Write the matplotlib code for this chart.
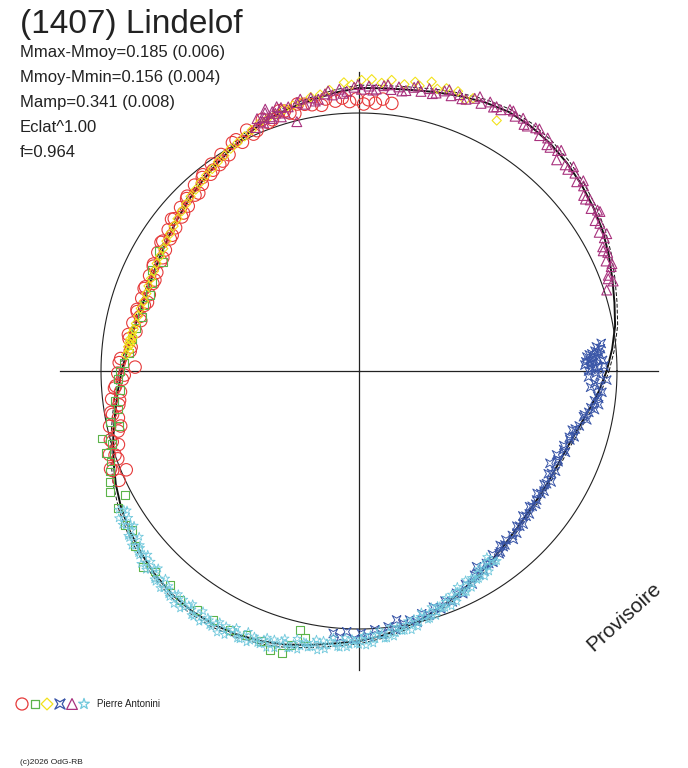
import numpy as np
import matplotlib
matplotlib.use("Agg")
import matplotlib.pyplot as plt

plt.rcParams['font.family'] = ['Liberation Sans', 'DejaVu Sans']

# courbe ajustée (angle en degrés, rayon relatif)
fit_deg = [0, 5, 10, 15, 20, 25, 30, 35, 40, 45, 50, 55, 60, 65, 70, 75, 80, 85,
           90, 95, 100, 105, 110, 115, 120, 125, 130, 135, 140, 145, 150, 155, 160, 165, 170, 175,
           180, 185, 190, 195, 200, 205, 210, 215, 220, 225, 230, 235, 240, 245, 250, 255, 260, 265,
           270, 275, 280, 285, 290, 295, 300, 305, 310, 315, 320, 325, 330, 335, 340, 345, 350, 355]
fit_r = [0.960, 0.985, 1.008, 1.025, 1.045, 1.068, 1.090, 1.108, 1.125, 1.140, 1.152, 1.159,
         1.160, 1.150, 1.135, 1.120, 1.107, 1.100, 1.097, 1.083, 1.066, 1.053, 1.038, 1.016,
         0.993, 0.972, 0.953, 0.935, 0.918, 0.903, 0.890, 0.882, 0.877, 0.880, 0.889, 0.902,
         0.920, 0.939, 0.960, 0.986, 1.013, 1.040, 1.064, 1.084, 1.101, 1.117, 1.129, 1.134,
         1.133, 1.126, 1.114, 1.098, 1.078, 1.060, 1.047, 1.030, 1.010, 0.988, 0.965, 0.941,
         0.918, 0.897, 0.878, 0.864, 0.855, 0.851, 0.850, 0.852, 0.860, 0.877, 0.902, 0.932]

# sessions
red_deg = [83, 85, 86.5, 88, 89, 90.5, 92, 93.5, 95, 97,
           100, 103, 105, 107, 109, 111, 113, 115, 117, 119, 121, 122.5, 124, 125.5, 127, 128.5,
           130, 131.5, 133, 134.5, 136, 137.5, 139, 140.5, 142, 143.5, 145, 146.5, 148, 149.5,
           151, 152.5, 154, 155.5, 157, 158.5, 160, 161.5, 163, 164.5, 166, 168, 170, 172, 174,
           177, 179, 180.5, 182, 183.5, 185, 186.5, 188, 189.5, 191, 192.5, 194, 195.5, 197,
           198.5, 200, 201.5, 203, 204.5,
           98, 101.5, 104, 106, 110, 114, 118, 123, 126, 129, 132, 135, 138, 141, 144, 147,
           150, 153, 156, 159, 162, 165, 167, 171, 175, 178, 181, 184, 187, 190, 193, 196,
           199, 202]
red_r = [1.045, 1.058, 1.040, 1.052, 1.035, 1.055, 1.045, 1.060, 1.050, 1.062,
         1.048, 1.062, 1.035, 1.055, 1.030, 1.045, 1.012, 1.030, 0.995, 1.012, 0.978, 0.995,
         0.965, 0.985, 0.955, 0.972, 0.945, 0.962, 0.932, 0.950, 0.920, 0.938, 0.910, 0.928,
         0.902, 0.920, 0.893, 0.912, 0.885, 0.905, 0.878, 0.898, 0.872, 0.892, 0.868, 0.890,
         0.865, 0.888, 0.870, 0.893, 0.874, 0.896, 0.878, 0.900, 0.888,
         0.925, 0.868, 0.935, 0.918, 0.945, 0.928, 0.965, 0.940, 0.975, 0.950, 0.990, 0.962,
         1.000, 0.975, 1.020, 0.995, 1.035, 0.980, 1.022,
         1.040, 1.055, 1.028, 1.048, 1.025, 1.005, 1.015, 0.970, 0.962, 0.965, 0.928, 0.945,
         0.915, 0.935, 0.895, 0.915, 0.878, 0.895, 0.866, 0.892, 0.862, 0.890, 0.868, 0.905,
         0.890, 0.930, 0.910, 0.950, 0.935, 0.970, 0.948, 0.995, 1.000, 1.030]

green_deg = [149, 151, 154, 157, 160, 163, 166, 169, 172, 175.5, 178, 180, 182, 184.5, 187,
             189, 191.5, 193, 194.7, 196.5, 198, 200, 202, 204, 205.9, 207.9, 209.7, 213.3,
             215, 218, 222.2, 224.5, 228.5, 232, 235.8, 239.7, 243.5, 246.9, 250, 252.3,
             254.7, 256, 257.2, 258.6]
green_r = [0.905, 0.870, 0.895, 0.870, 0.862, 0.872, 0.866, 0.880, 0.888, 0.895, 0.912, 0.928,
           0.935, 0.930, 0.955, 0.945, 0.985, 0.955, 1.031, 1.000, 1.030, 1.025, 1.040, 1.055,
           1.073, 1.026, 1.074, 1.086, 1.072, 1.100, 1.129, 1.109, 1.107, 1.127, 1.120, 1.118,
           1.122, 1.112, 1.112, 1.135, 1.134, 1.095, 1.030, 1.057]

yellow_deg = [61.2, 67.3, 68.6, 70.5, 72.8, 74.5, 75.9, 78, 79, 81, 83.6, 85.5, 87.5, 89.5,
              91.5, 93, 96, 98, 100, 102, 104, 106, 108, 110, 112, 114, 116, 118, 120, 122,
              124, 126, 128, 130, 132, 134, 136, 138, 140, 142, 144, 146, 148, 150, 152, 154,
              156, 158, 160, 162, 164, 166, 168, 169.5, 170.5, 171.5, 172, 172.5, 173, 173.5,
              174, 175, 176]
yellow_r = [1.108, 1.146, 1.128, 1.150, 1.147, 1.135, 1.156, 1.130, 1.142, 1.125, 1.135, 1.120,
            1.132, 1.128, 1.110, 1.120, 1.095, 1.082, 1.078, 1.066, 1.060, 1.055, 1.046, 1.040,
            1.035, 1.022, 1.012, 1.002, 0.995, 0.985, 0.978, 0.968, 0.962, 0.955, 0.946, 0.940,
            0.932, 0.925, 0.918, 0.912, 0.905, 0.900, 0.895, 0.890, 0.888, 0.884, 0.882, 0.880,
            0.877, 0.876, 0.880, 0.882, 0.884, 0.888, 0.892, 0.886, 0.895, 0.890, 0.898, 0.892,
            0.900, 0.895, 0.905]

blue_deg = [264.4, 266, 267.3, 269, 270.5, 272, 273.5, 275, 276.5, 278, 278.6, 280, 281.5, 283,
            284.5, 286, 287.5, 289, 290.5, 292, 293.7, 295, 296.5, 298, 299.5, 301, 302, 303.5,
            305, 306, 307.5, 309, 309.4, 311, 312.5, 314.2, 315.5, 317, 318.5, 320, 321.5, 323,
            324, 325.5, 327, 328.5, 330, 331.5, 333, 334.2, 335.5, 337, 338.5, 340, 341.9, 343,
            344.5, 346, 347.9, 349, 350.7, 352, 353.5, 355, 356.5, 357.9, 359,
            0.5, 1, 1.5, 2, 2.7, 3.2, 3.5, 3.8, 4.2, 4.8, 5.3,
            356, 357, 358.5, 359.5, 0, 0.8, 1.8, 2.3, 3, 4, 4.5, 5.8, 6.5, 2.5, 1.2, 354,
            352.8, 351, 349.8, 348.5, 345, 342.5, 339, 336, 332, 329, 326, 322, 319, 316, 313,
            310, 308, 304, 300.5]
blue_r = [1.022, 1.035, 1.012, 1.040, 1.017, 1.030, 1.005, 1.025, 0.998, 1.012, 0.976, 0.995,
          0.985, 1.000, 0.972, 0.985, 0.960, 0.975, 0.952, 0.965, 0.941, 0.952, 0.925, 0.935,
          0.910, 0.885, 0.915, 0.895, 0.905, 0.880, 0.893, 0.870, 0.881, 0.868, 0.885, 0.877,
          0.858, 0.870, 0.848, 0.862, 0.845, 0.858, 0.851, 0.838, 0.855, 0.842, 0.860, 0.835,
          0.855, 0.822, 0.848, 0.832, 0.860, 0.845, 0.860, 0.872, 0.858, 0.880, 0.903, 0.890,
          0.925, 0.938, 0.935, 0.945, 0.932, 0.961, 0.935,
          0.900, 0.930, 0.876, 0.910, 0.896, 0.925, 0.885, 0.936, 0.905, 0.918, 0.940,
          0.900, 0.915, 0.890, 0.920, 0.890, 0.915, 0.898, 0.880, 0.910, 0.895, 0.930, 0.925,
          0.945, 0.945, 0.950, 0.930, 0.920, 0.910, 0.905, 0.888, 0.868, 0.855, 0.850, 0.845,
          0.845, 0.848, 0.850, 0.852, 0.858, 0.866, 0.872, 0.880, 0.890, 0.900, 0.915]

magenta_deg = [18.1, 19.5, 21, 22.5, 24, 25.5, 27, 28.5, 30, 31.5, 33.5, 35, 36.5, 38, 39.5,
               41, 42.5, 43.6, 45, 46.9, 48, 49.5, 51, 52.5, 54, 55.5, 57, 58.5, 60, 61.5,
               62.5, 64, 65.5, 67, 68.5, 70, 71.5, 73, 74.5, 76, 77.5, 79, 80.5, 82, 83.5, 85,
               86.5, 88, 89.5, 91, 92.5, 94, 95.5, 97, 98.5, 100, 101.5, 103, 104, 105, 106,
               107.3, 108, 108.5, 109, 109.3, 110, 110.5, 111, 112, 113,
               20.3, 23, 26.2, 29, 32.5, 34, 37.2, 40.3, 44, 47.5, 50.3, 53.3, 56.2, 59.3, 63,
               66.2, 69.3, 72.2, 75.2, 78.3, 81.3, 84.2, 87.2, 90.2, 93.3, 96.3, 99.2, 102.2,
               106.5, 109.7, 111.5, 107]
magenta_r = [1.010, 1.045, 1.035, 1.058, 1.048, 1.068, 1.060, 1.082, 1.075, 1.095, 1.120, 1.098,
             1.115, 1.105, 1.128, 1.118, 1.135, 1.148, 1.130, 1.121, 1.150, 1.140, 1.162, 1.150,
             1.165, 1.152, 1.168, 1.158, 1.170, 1.152, 1.155, 1.160, 1.140, 1.148, 1.132, 1.140,
             1.125, 1.135, 1.118, 1.128, 1.110, 1.120, 1.102, 1.112, 1.098, 1.110, 1.095, 1.105,
             1.092, 1.100, 1.085, 1.095, 1.075, 1.082, 1.065, 1.075, 1.055, 1.068, 0.996, 1.060,
             1.040, 1.073, 1.050, 1.060, 1.035, 1.044, 1.065, 1.048, 1.030, 1.055, 1.025,
             1.030, 1.065, 1.055, 1.098, 1.085, 1.115, 1.102, 1.140, 1.125, 1.160, 1.140, 1.170,
             1.150, 1.172, 1.148, 1.162, 1.128, 1.145, 1.112, 1.128, 1.098, 1.115, 1.090, 1.110,
             1.078, 1.092, 1.060, 1.078, 1.065, 1.078, 1.040, 1.030]

cyan_deg = [210, 211, 212, 213, 214, 215, 216, 217, 218, 219, 220, 221, 222, 223, 224, 225,
            226, 227, 228, 229, 230, 231, 232, 233, 234, 235, 236, 237, 238, 239, 240, 241,
            242, 243, 244, 245, 246, 247, 248, 249, 250, 251, 252, 253, 254, 255, 256, 257,
            258, 259, 260, 261, 262, 263, 264, 265, 266, 267, 268, 269, 270, 271, 272, 273,
            274, 275, 276, 277, 278, 279, 280, 281, 282, 283, 284, 285, 286, 287, 288, 289,
            290, 291, 292, 293, 294, 295, 296, 297, 298, 299, 300, 301, 302, 303, 304, 305, 306,
            210.5, 211.5, 212.5, 213.5, 214.5, 215.5, 216.5, 217.5, 218.5, 219.5, 220.5, 221.5,
            222.5, 223.5, 224.5, 225.5, 226.5, 227.5, 228.5, 229.5, 230.5, 231.5, 232.5, 233.5,
            234.5, 235.5, 236.5, 237.5, 238.5, 239.5, 240.5, 241.5, 242.5, 243.5, 244.5, 245.5,
            246.5, 247.5, 248.5, 249.5, 250.5, 251.5, 252.5, 253.5, 254.5, 255.5, 256.5, 257.5,
            258.5, 259.5, 260.5, 261.5, 262.5, 263.5, 264.5, 265.5, 266.5, 267.5, 268.5, 269.5,
            270.5, 271.5, 272.5, 273.5, 274.5, 275.5, 276.5, 277.5, 278.5, 279.5, 280.5, 281.5,
            282.5, 283.5, 284.5, 285.5, 286.5, 287.5, 288.5, 289.5, 290.5, 291.5, 292.5, 293.5,
            294.5, 295.5, 296.5, 297.5, 298.5, 299.5, 300.5, 301.5, 302.5, 303.5, 304.5, 305.5]
cyan_r = [1.075, 1.049, 1.074, 1.094, 1.068, 1.079, 1.101, 1.067, 1.101, 1.090,
          1.112, 1.085, 1.110, 1.129, 1.102, 1.114, 1.135, 1.100, 1.133, 1.122,
          1.143, 1.113, 1.135, 1.152, 1.122, 1.130, 1.148, 1.110, 1.141, 1.127,
          1.145, 1.113, 1.133, 1.148, 1.116, 1.122, 1.138, 1.098, 1.127, 1.111,
          1.127, 1.093, 1.111, 1.123, 1.089, 1.093, 1.107, 1.065, 1.091, 1.073,
          1.087, 1.054, 1.074, 1.087, 1.055, 1.060, 1.075, 1.035, 1.062, 1.046,
          1.061, 1.027, 1.045, 1.057, 1.023, 1.028, 1.042, 1.000, 1.026, 1.008,
          1.022, 0.988, 1.005, 1.017, 0.982, 0.986, 0.999, 0.957, 0.982, 0.964,
          0.977, 0.942, 0.960, 0.971, 0.936, 0.940, 0.953, 0.910, 0.935, 0.917,
          0.930, 0.896, 0.914, 0.926, 0.892, 0.896, 0.910,
          1.058, 1.092, 1.059, 1.084, 1.058, 1.100, 1.085, 1.111, 1.084, 1.109,
          1.095, 1.128, 1.094, 1.118, 1.091, 1.132, 1.117, 1.141, 1.113, 1.138,
          1.122, 1.153, 1.117, 1.139, 1.110, 1.148, 1.130, 1.152, 1.121, 1.143,
          1.124, 1.153, 1.115, 1.134, 1.103, 1.139, 1.118, 1.138, 1.106, 1.125,
          1.104, 1.131, 1.091, 1.109, 1.076, 1.110, 1.088, 1.106, 1.072, 1.090,
          1.068, 1.095, 1.054, 1.071, 1.038, 1.073, 1.052, 1.072, 1.039, 1.058,
          1.037, 1.064, 1.024, 1.041, 1.008, 1.042, 1.020, 1.038, 1.004, 1.022,
          1.000, 1.025, 0.984, 1.001, 0.966, 1.000, 0.977, 0.995, 0.960, 0.977,
          0.955, 0.980, 0.938, 0.954, 0.919, 0.953, 0.930, 0.947, 0.913, 0.930,
          0.908, 0.934, 0.892, 0.909, 0.875, 0.909]

# étoile à 4 branches
star4 = [(1, 1), (0, 0.42), (-1, 1), (-0.42, 0), (-1, -1), (0, -0.42), (1, -1), (0.42, 0), (1, 1)]

sessions = [
    (red_deg, red_r, 'o', '#e63a3a', 80, 0.8),
    (green_deg, green_r, 's', '#5cb44a', 32, 0.8),
    (yellow_deg, yellow_r, 'D', '#f2e21a', 22, 0.8),
    (blue_deg, blue_r, star4, '#3a56a8', 40, 0.7),
    (magenta_deg, magenta_r, '^', '#a8327e', 50, 0.8),
    (cyan_deg, cyan_r, '*', '#70c8dc', 40, 0.6),
]

W, H = 688, 768
cx, cy, R = 359, 371, 258
rmax = 1.16

fig = plt.figure(figsize=(W / 100, H / 100), dpi=100)

# calque pour les textes (coordonnées en pixels)
ov = fig.add_axes([0, 0, 1, 1])
ov.set_xlim(0, W)
ov.set_ylim(H, 0)
ov.axis('off')

side = 2 * rmax * R
ax = fig.add_axes([(cx - rmax * R) / W, (H - cy - rmax * R) / H, side / W, side / H],
                  projection='polar')
ax.set_rlim(0, rmax)
ax.set_axis_off()

# cercle de référence et axes
t = np.linspace(0, 2 * np.pi, 721)
ax.plot(t, np.ones_like(t), color='#222222', lw=0.8, clip_on=False)
for a in [0, np.pi / 2, np.pi, 3 * np.pi / 2]:
    ax.plot([a, a], [0, rmax], color='#222222', lw=0.9, clip_on=False)

# courbe
th = np.radians(fit_deg + [360])
rr = np.array(fit_r + [fit_r[0]])
ax.plot(th, rr * 1.01, color='#111111', lw=0.7, ls=(0, (4, 2)), clip_on=False, zorder=1)
ax.plot(th, rr, color='#111111', lw=1.4, clip_on=False, zorder=1)

# points
for deg, r, mk, col, s, lw in sessions:
    ax.scatter(np.radians(deg), r, marker=mk, s=s, facecolors='none', edgecolors=col,
               linewidths=lw, clip_on=False, zorder=2)

# textes
ov.text(20, 33, '(1407) Lindelof', fontsize=24, color='#222222', va='baseline')
infos = ['Mmax-Mmoy=0.185 (0.006)', 'Mmoy-Mmin=0.156 (0.004)', 'Mamp=0.341 (0.008)',
         'Eclat^1.00', 'f=0.964']
for i, s in enumerate(infos):
    ov.text(20, 57 + 25 * i, s, fontsize=12, color='#222222', va='baseline')

ov.text(624, 617, 'Provisoire', fontsize=15, color='#222222', rotation=42,
        ha='center', va='center')

# légende
leg_x = [22, 35, 47, 60, 72, 84]
leg_s = [75, 40, 36, 55, 60, 65]
for (deg, r, mk, col, s, lw), x, ls in zip(sessions, leg_x, leg_s):
    ov.scatter([x], [704], marker=mk, s=ls, facecolors='none', edgecolors=col,
               linewidths=0.9)
ov.text(97, 704, 'Pierre Antonini', fontsize=7, color='#222222', va='center')
ov.text(20, 763, '(c)2026 OdG-RB', fontsize=6, color='#222222', va='center')

fig.savefig('out.png', dpi=100)
